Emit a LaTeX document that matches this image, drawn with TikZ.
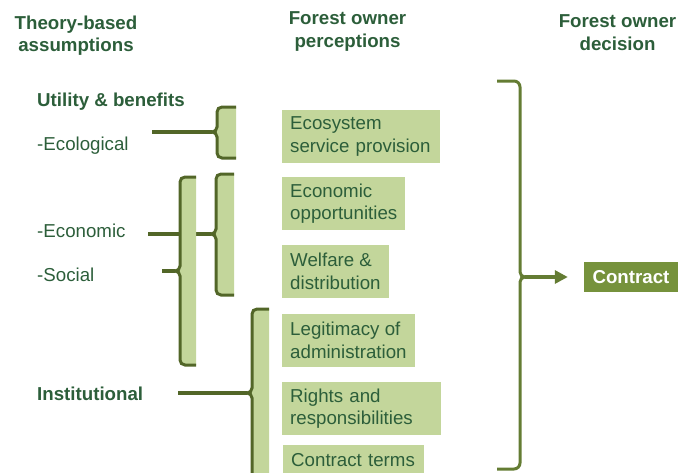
\documentclass[tikz,border=0pt]{standalone}
\usepackage{fontspec}
\setmainfont{Liberation Sans}
\usetikzlibrary{calc}
\usetikzlibrary{arrows.meta}

\definecolor{txtgreen}{RGB}{44,94,58}
\definecolor{boxgreen}{RGB}{195,214,155}
\definecolor{bracegreen}{RGB}{82,102,40}
\definecolor{olivegreen}{RGB}{118,146,60}

% left bracket with a tip: x, top, bottom, tip y, width
\newcommand{\leftbracket}[5]{%
  \filldraw[bracket] (#1+#5,#2) -- (#1+5,#2) to[out=180,in=90] (#1,#2+5)
    -- (#1,#4-5) to[out=-90,in=0] (#1-5,#4) to[out=0,in=90] (#1,#4+5)
    -- (#1,#3-5) to[out=-90,in=180] (#1+5,#3) -- (#1+#5,#3);}

\begin{document}
\begin{tikzpicture}[x=1pt,y=-1pt,
    txt/.style={font=\fontsize{18.7}{22.5}\selectfont, text=txtgreen, inner sep=0pt},
    heading/.style={txt, font=\fontsize{18.7}{22.5}\selectfont\bfseries, align=center},
    percbox/.style={txt, fill=boxgreen, anchor=west, align=left, inner xsep=8pt, minimum height=53pt},
    bracket/.style={fill=boxgreen, draw=bracegreen, line width=3pt},
    link/.style={draw=bracegreen, line width=3.2pt}]

    \clip (0,0) rectangle (692,472);

    % Column headings
    \node[heading] (theory) at (76,35.5) {Theory-based\\assumptions};
    \node[heading] (perc) at (347.5,31.5) {Forest owner\\perceptions};
    \node[heading] (dec) at (617.5,32.5) {Forest owner\\decision};

    % Assumptions on the left
    \node[txt, font=\fontsize{18.7}{22.5}\selectfont\bfseries, anchor=base west] (util) at (37,106) {Utility \& benefits};
    \node[txt, anchor=base west] (ecol) at (37,150) {-Ecological};
    \node[txt, anchor=base west] (econ) at (37,237) {-Economic};
    \node[txt, anchor=base west] (soc) at (37,281) {-Social};
    \node[txt, font=\fontsize{18.7}{22.5}\selectfont\bfseries, anchor=base west] (inst) at (37,400) {Institutional};

    % Perception boxes
    \node[percbox, text width=142pt] (eco) at (282,136.5) {Ecosystem\\service provision};
    \node[percbox] (opp) at (282,203.5) {Economic\\opportunities};
    \node[percbox] (welf) at (282,271.5) {Welfare \&\\distribution};
    \node[percbox] (legit) at (282,340.5) {Legitimacy of\\administration};
    \node[percbox, text width=143pt] (rights) at (282,408.5) {Rights and\\responsibilities};
    \node[percbox, minimum height=30pt, text width=125pt] (terms) at (283,460) {Contract terms};

    % Decision
    \node[font=\fontsize{18.7}{22.5}\selectfont\bfseries, text=white, fill=olivegreen,
          minimum width=94pt, minimum height=30pt, inner sep=0pt] (contract) at (631,277) {Contract};

    % Ends of the connecting lines
    \coordinate (ecolend) at (152,132);
    \coordinate (econend) at (148,234);
    \coordinate (socend) at (162,271);
    \coordinate (instend) at (178,393);
    \coordinate (ecotip) at (212,132);
    \coordinate (econtip) at (211,234);
    \coordinate (soctip) at (175,271);
    \coordinate (insttip) at (247,393);
    \coordinate (dectip) at (525,277);

    % Lines into the brackets
    \draw[link] (ecolend) -- (ecotip);
    \draw[link] (econend) -- (econtip);
    \draw[link] (socend) -- (soctip);
    \draw[link] (instend) -- (insttip);

    % Brackets
    \leftbracket{217}{107}{158}{132}{19}
    \leftbracket{180}{177}{365}{271}{16}
    \leftbracket{216}{174}{295}{234}{18}
    \leftbracket{252}{309}{520}{393}{17}

    % Closing brace and arrow to the decision
    \draw[draw=olivegreen!85!black, line width=3pt] (497,81) -- (514,81) to[out=0,in=90] (520,87)
        -- (520,272) to[out=-90,in=180] (dectip) to[out=180,in=90] (520,282)
        -- (520,463) to[out=-90,in=0] (514,469) -- (497,469);
    \draw[draw=olivegreen!85!black, line width=3.2pt, -{Triangle[length=13pt,width=13pt]}, shorten >=16pt] (dectip) -- (contract.west);

\end{tikzpicture}
\end{document}
